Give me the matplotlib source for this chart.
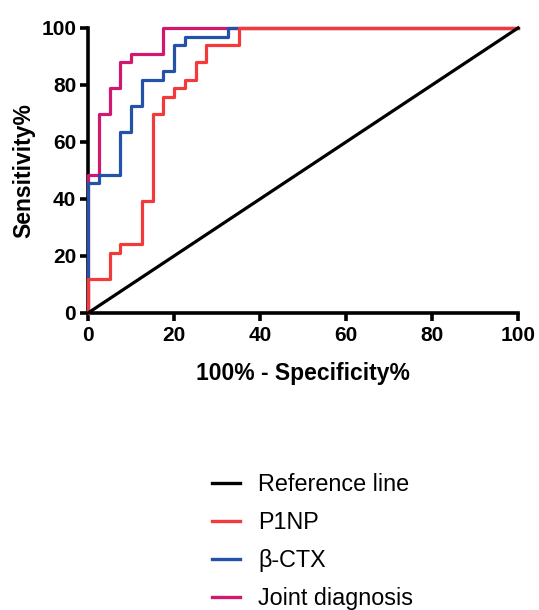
import matplotlib
matplotlib.use("Agg")
import matplotlib.pyplot as plt

# Data (100% - specificity, sensitivity) step points
ref_x = [0, 100]
ref_y = [0, 100]

p1np_x = [0, 0, 5, 5, 7.5, 7.5, 12.5, 12.5, 15, 15, 17.5, 17.5, 20, 20, 22.5, 22.5,
          25, 25, 27.5, 27.5, 35, 35, 100]
p1np_y = [0, 12.1, 12.1, 21.2, 21.2, 24.2, 24.2, 39.4, 39.4, 69.7, 69.7, 75.8, 75.8,
          78.8, 78.8, 81.8, 81.8, 87.9, 87.9, 93.9, 93.9, 100, 100]

ctx_x = [0, 0, 2.5, 2.5, 7.5, 7.5, 10, 10, 12.5, 12.5, 17.5, 17.5, 20, 20, 22.5, 22.5,
         32.5, 32.5, 100]
ctx_y = [0, 45.5, 45.5, 48.5, 48.5, 63.6, 63.6, 72.7, 72.7, 81.8, 81.8, 84.8, 84.8,
         93.9, 93.9, 97.0, 97.0, 100, 100]

joint_x = [0, 0, 2.5, 2.5, 5, 5, 7.5, 7.5, 10, 10, 17.5, 17.5, 100]
joint_y = [0, 48.5, 48.5, 69.7, 69.7, 78.8, 78.8, 87.9, 87.9, 90.9, 90.9, 100, 100]

labels = ["Reference line", "P1NP", "β-CTX", "Joint diagnosis"]
colors = ["#000000", "#F23A3A", "#2352A8", "#D1186E"]

xticks = [0, 20, 40, 60, 80, 100]
yticks = [0, 20, 40, 60, 80, 100]

plt.rcParams['font.family'] = ['Liberation Sans', 'DejaVu Sans']

fig = plt.figure(figsize=(5.39, 6.10), dpi=100)
ax = fig.add_axes([88/539, 1-313/610, (518-88)/539, (313-28)/610])

lw = 2.3
h0, = ax.plot(ref_x, ref_y, color=colors[0], lw=lw, zorder=6, clip_on=False, label=labels[0])
h3, = ax.plot(joint_x, joint_y, color=colors[3], lw=lw, zorder=3, clip_on=False, label=labels[3])
h2, = ax.plot(ctx_x, ctx_y, color=colors[2], lw=lw, zorder=4, clip_on=False, label=labels[2])
h1, = ax.plot(p1np_x, p1np_y, color=colors[1], lw=lw, zorder=5, clip_on=False, label=labels[1])

ax.set_xlim(0, 100)
ax.set_ylim(0, 100)
ax.set_xticks(xticks)
ax.set_yticks(yticks)
for s in ["top", "right"]:
    ax.spines[s].set_visible(False)
for s in ["left", "bottom"]:
    ax.spines[s].set_linewidth(2.6)
ax.tick_params(width=2.6, length=5.5, labelsize=15)
ax.tick_params(axis="x", pad=4)
ax.tick_params(axis="y", pad=3)
for lab in ax.get_xticklabels() + ax.get_yticklabels():
    lab.set_fontweight("bold")

ax.set_xlabel("100% - Specificity%", fontsize=16.5, fontweight="bold", labelpad=12)
ax.set_ylabel("Sensitivity%", fontsize=16.5, fontweight="bold", labelpad=4)

leg = fig.legend([h0, h1, h2, h3], labels, loc="upper left",
                 bbox_to_anchor=(191/539, 1-452/610), frameon=False,
                 fontsize=16.8, handlelength=1.2, handletextpad=0.77,
                 labelspacing=0.64)
for line in leg.get_lines():
    line.set_linewidth(2.4)

fig.savefig("out.png", dpi=100)
